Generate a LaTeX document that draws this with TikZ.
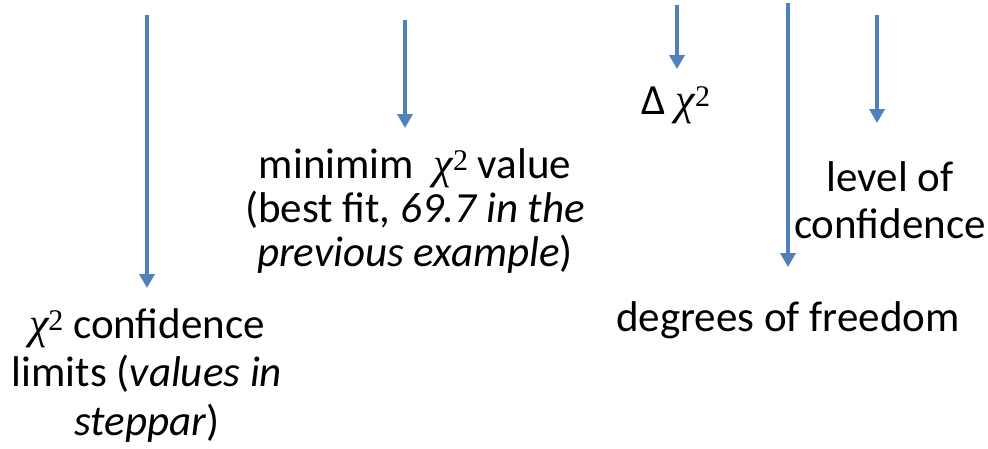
\documentclass[tikz,border=0pt]{standalone}
\usepackage{fontspec}
\setmainfont{Carlito}
\newfontfamily\greekserif{Liberation Serif}
\usetikzlibrary{arrows.meta}
\definecolor{pointerblue}{HTML}{4F81BD}
\newcommand{\chisq}{{\greekserif\fontsize{44}{44}\selectfont\itshape χ\upshape\raisebox{8pt}{\fontsize{30}{30}\selectfont 2}}}

\begin{document}
\begin{tikzpicture}[x=1pt,y=-1pt,
  pointer/.style={draw=pointerblue,line width=4.5pt,-{Triangle[width=15pt,length=14pt]}},
  note/.style={inner sep=0pt,anchor=north,align=center,font=\fontsize{43}{47}\selectfont}]
\useasboundingbox (0,0) rectangle (988,448);

\node[note,font=\fontsize{43}{48.5}\selectfont] (conflim) at (147,308)
  {\chisq{} confidence\\limits (\textit{values in}\\\textit{steppar})};

\node[note,font=\fontsize{43}{44}\selectfont] (minval) at (415,148)
  {minimim\ \ \chisq{} value\\(best fit, \textit{69.7 in the}\\\textit{previous example})};

\node[note] (delta) at (676,86) {Δ \chisq};

\node[note] (level) at (890,161) {level of\\confidence};

\node[note] (dof) at (788,301) {degrees of freedom};

% arrow tails
\coordinate (conftail) at (147,15);
\coordinate (mintail) at (405,20);
\coordinate (deltatail) at (677,5);
\coordinate (doftail) at (788,3);
\coordinate (leveltail) at (877,15);

\draw[pointer,shorten >=20pt] (conftail)--(conftail |- conflim.north);
\draw[pointer,shorten >=20pt] (mintail)--(mintail |- minval.north);
\draw[pointer,shorten >=17pt] (deltatail)--(deltatail |- delta.north);
\draw[pointer,shorten >=34pt] (doftail)--(doftail |- dof.north);
\draw[pointer,shorten >=38pt] (leveltail)--(leveltail |- level.north);
\end{tikzpicture}
\end{document}
